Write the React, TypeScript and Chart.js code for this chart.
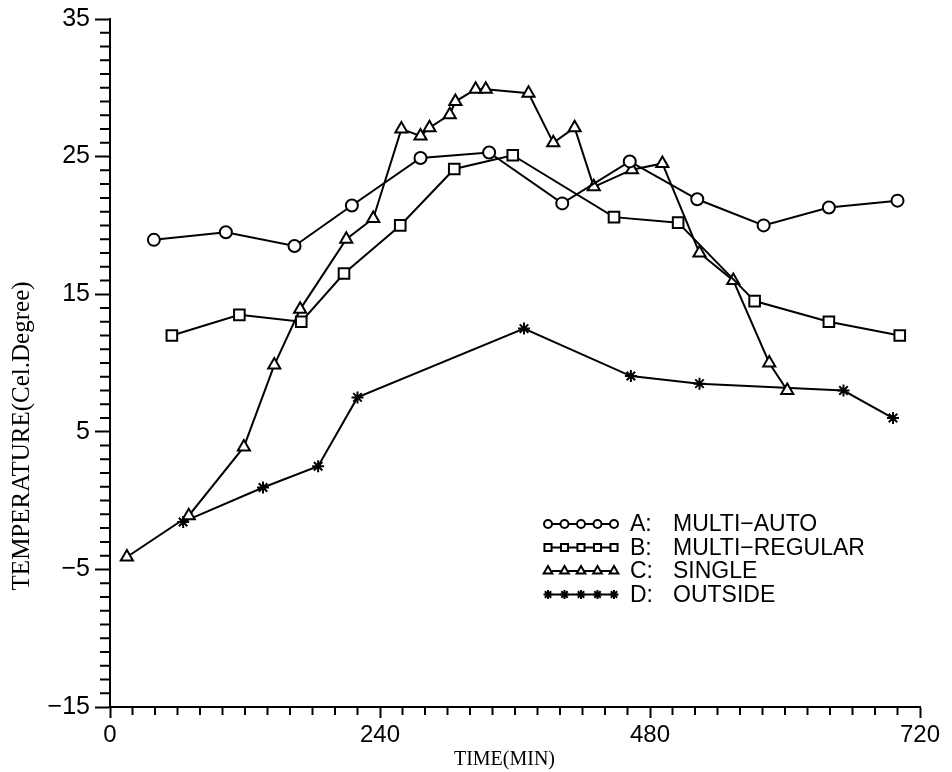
import React, { useEffect, useRef } from 'react';
import { Chart, registerables } from 'chart.js';
import { drawPoint } from 'chart.js/helpers';

Chart.register(...registerables);

// ---- data ----
const timeA = [39, 103, 164, 215, 276, 337, 402, 462, 522, 581, 639, 700];
const tempA = [18.95, 19.5, 18.5, 21.45, 24.9, 25.3, 21.6, 24.65, 21.9, 20.0, 21.3, 21.8];

const timeB = [55, 115, 170, 208, 258, 306, 358, 448, 505, 573, 639, 702];
const tempB = [12.0, 13.5, 13.0, 16.5, 20.0, 24.1, 25.1, 20.6, 20.2, 14.5, 13.0, 12.0];

const timeC = [15, 70, 119, 146, 169, 210, 234, 259, 276, 284, 302, 307, 325, 334, 372, 394, 413, 430, 464, 491, 524, 554, 586, 602];
const tempC = [-4.1, -1.1, 3.9, 9.85, 13.9, 19.0, 20.5, 27.0, 26.5, 27.1, 28.05, 29.0, 29.9, 29.9, 29.6, 26.0, 27.1, 22.8, 24.05, 24.5, 18.0, 16.0, 10.0, 8.0];

const timeD = [65, 136, 185, 220, 368, 463, 524, 652, 696];
const tempD = [-1.55, 0.95, 2.5, 7.5, 12.5, 9.05, 8.5, 8.0, 6.0];

const legendKeys = ['A:', 'B:', 'C:', 'D:'];
const legendNames = ['MULTI\u2212AUTO', 'MULTI\u2212REGULAR', 'SINGLE', 'OUTSIDE'];

const xTickLabels = ['0', '240', '480', '720'];
const yTickLabels = ['\u221215', '\u22125', '5', '15', '25', '35'];

const X_TITLE = 'TIME(MIN)';
const Y_TITLE = 'TEMPERATURE(Cel.Degree)';

const X_MIN = 0, X_MAX = 720, X_STEP = 240, X_MINOR = 20;
const Y_MIN = -15, Y_MAX = 35, Y_STEP = 10, Y_MINOR = 1;

const toPoints = (xs: number[], ys: number[]) => xs.map((x, i) => ({ x, y: ys[i] }));

const minorTicks = {
  id: 'minorTicks',
  afterDraw(chart: any) {
    const { ctx, chartArea: a } = chart;
    const x = chart.scales.x, y = chart.scales.y;
    ctx.save();
    ctx.strokeStyle = '#000';
    ctx.lineWidth = 2;
    ctx.beginPath();
    for (let v = Y_MIN; v <= Y_MAX; v += Y_MINOR) {
      if ((v - Y_MIN) % Y_STEP === 0) continue;
      const py = y.getPixelForValue(v);
      ctx.moveTo(a.left - 10, py);
      ctx.lineTo(a.left, py);
    }
    for (let t = X_MIN; t <= X_MAX; t += X_MINOR) {
      if ((t - X_MIN) % X_STEP === 0) continue;
      const px = x.getPixelForValue(t);
      ctx.moveTo(px, a.bottom);
      ctx.lineTo(px, a.bottom + 8);
    }
    ctx.stroke();
    ctx.restore();
  },
};

const axisTitles = {
  id: 'axisTitles',
  afterDraw(chart: any) {
    const { ctx, chartArea: a } = chart;
    ctx.save();
    ctx.fillStyle = '#000';
    ctx.textAlign = 'center';
    ctx.textBaseline = 'middle';
    ctx.font = '20px "Liberation Serif"';
    ctx.translate(a.left + (a.right - a.left) * 0.487, a.bottom + 52);
    ctx.scale(1, 1.1);
    ctx.fillText(X_TITLE, 0, 0);
    ctx.restore();

    ctx.save();
    ctx.fillStyle = '#000';
    ctx.textAlign = 'center';
    ctx.textBaseline = 'middle';
    ctx.font = '25px "Liberation Serif"';
    ctx.translate(22, a.top + (a.bottom - a.top) * 0.606);
    ctx.rotate(-Math.PI / 2);
    ctx.fillText(Y_TITLE, 0, 0);
    ctx.restore();
  },
};

const customLegend = {
  id: 'customLegend',
  afterDraw(chart: any) {
    const { ctx, chartArea: a } = chart;
    const x0 = a.left + 438;
    const step = 16.5;
    const y0 = a.top + 505;
    const dy = 23.5;
    chart.data.datasets.forEach((ds: any, i: number) => {
      const yy = y0 + i * dy;
      ctx.save();
      ctx.strokeStyle = '#000';
      ctx.lineWidth = 2;
      ctx.beginPath();
      ctx.moveTo(x0, yy);
      ctx.lineTo(x0 + 4 * step, yy);
      ctx.stroke();
      ctx.fillStyle = '#fff';
      ctx.lineWidth = 2;
      for (let k = 0; k < 5; k++) {
        drawPoint(ctx, { pointStyle: ds.pointStyle, radius: ds.legendRadius, borderWidth: 2, rotation: 0 } as any, x0 + k * step, yy);
      }
      ctx.fillStyle = '#000';
      ctx.font = '23px "Liberation Sans"';
      ctx.textAlign = 'left';
      ctx.textBaseline = 'middle';
      ctx.fillText(legendKeys[i], x0 + 82, yy + 1);
      ctx.fillText(legendNames[i], x0 + 125, yy + 1);
      ctx.restore();
    });
  },
};

export default function App() {
  const ref = useRef<HTMLCanvasElement | null>(null);

  useEffect(() => {
    if (!ref.current) return;
    Chart.defaults.font.family = 'Liberation Sans';
    const common = {
      borderColor: '#000',
      borderWidth: 2,
      pointBackgroundColor: '#fff',
      pointBorderColor: '#000',
      pointBorderWidth: 2,
      tension: 0,
      fill: false,
      clip: false as any,
    };
    const chart = new Chart(ref.current, {
      type: 'line',
      data: {
        datasets: [
          { ...common, label: legendNames[0], data: toPoints(timeA, tempA), pointStyle: 'circle', pointRadius: 6, legendRadius: 4 } as any,
          { ...common, label: legendNames[1], data: toPoints(timeB, tempB), pointStyle: 'rect', pointRadius: 7.5, legendRadius: 5 } as any,
          { ...common, label: legendNames[2], data: toPoints(timeC, tempC), pointStyle: 'triangle', pointRadius: 7, legendRadius: 5 } as any,
          { ...common, label: legendNames[3], data: toPoints(timeD, tempD), pointStyle: 'star', pointRadius: 6, legendRadius: 4.5 } as any,
        ],
      },
      options: {
        responsive: false,
        animation: false,
        devicePixelRatio: 1,
        layout: { padding: { top: 19, right: 32, bottom: 0, left: 0 } },
        plugins: { legend: { display: false }, tooltip: { enabled: false } },
        scales: {
          x: {
            type: 'linear',
            min: X_MIN,
            max: X_MAX,
            ticks: {
              stepSize: X_STEP,
              color: '#000',
              font: { family: 'Liberation Sans', size: 24 },
              padding: 3,
              maxRotation: 0,
              autoSkip: false,
              callback: (_v: any, i: number) => xTickLabels[i],
            },
            grid: { drawOnChartArea: false, drawTicks: true, tickLength: 11, tickWidth: 2, tickColor: '#000' },
            border: { display: true, color: '#000', width: 2 },
            afterFit(s: any) {
              s.height = 65;
              s.paddingLeft = 0;
              s.paddingRight = 0;
            },
          },
          y: {
            type: 'linear',
            min: Y_MIN,
            max: Y_MAX,
            ticks: {
              stepSize: Y_STEP,
              color: '#000',
              font: { family: 'Liberation Sans', size: 25 },
              padding: 5,
              autoSkip: false,
              callback: (_v: any, i: number) => yTickLabels[i],
            },
            grid: { drawOnChartArea: false, drawTicks: true, tickLength: 15, tickWidth: 2, tickColor: '#000' },
            border: { display: true, color: '#000', width: 2 },
            afterFit(s: any) {
              s.width = 110;
              s.paddingTop = 0;
              s.paddingBottom = 0;
            },
          },
        },
      } as any,
      plugins: [minorTicks, axisTitles, customLegend],
    });
    return () => chart.destroy();
  }, []);

  return (
    <div style={{ position: 'absolute', left: 0, top: 0, width: 952, height: 772, background: '#fff' }}>
      <canvas ref={ref} width={952} height={772} style={{ display: 'block' }} />
    </div>
  );
}
